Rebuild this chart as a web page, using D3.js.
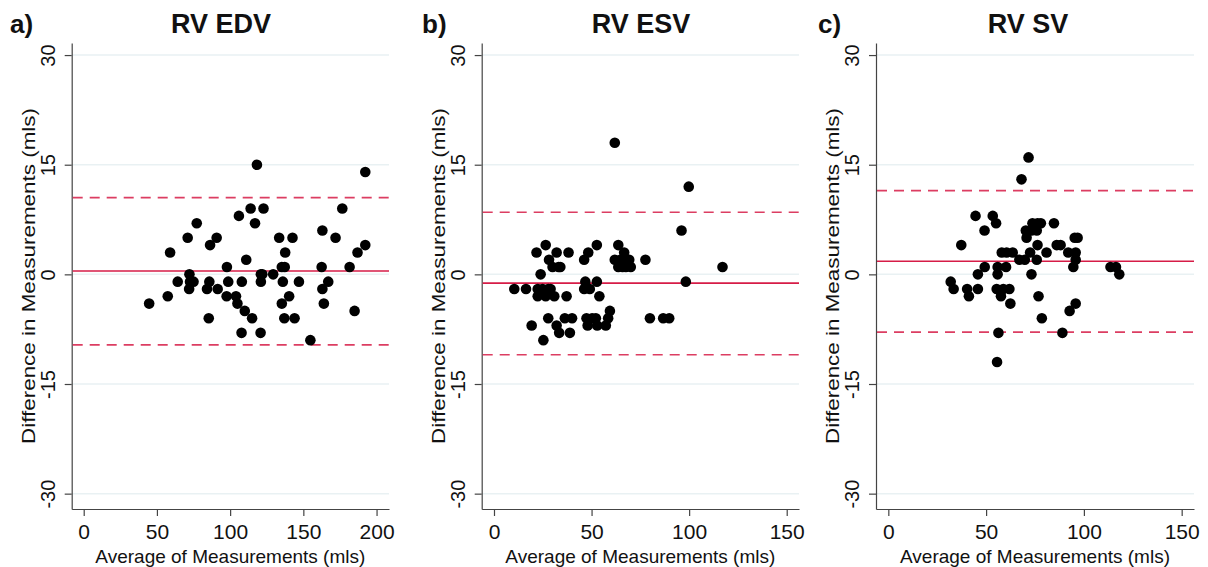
<!DOCTYPE html>
<html>
<head>
<meta charset="utf-8">
<script src="https://cdn.jsdelivr.net/npm/d3@7"></script>
<style>
  body { margin: 0; background: #fff; }
  text { font-family: "Liberation Sans", Arial, Helvetica, sans-serif; fill: #111; }
</style>
</head>
<body>
<div id="chart"></div>
<script>
// data (x = average, y = difference, mls)
var edvX = [44.7,57.4,59,64.2,71,72.2,72.6,72,75,77.2,84.2,85.8,86.3,85.4,90.8,91.5,97.8,98.7,97.6,104,105,106,108,107.8,110,111,114,115,117,118.3,121,121,120.8,122.8,122,129.4,133.5,135.3,135.3,136,137.3,137.6,137,140.3,142.6,144,147,154.8,163,162.5,163,164,167,172,176.6,181.6,185,187,192.3,192.3];
var edvY = [-4,-3,3,-1,5,0,-1,-2,-1,7,-2,-1,4,-6,5,-2,1,-1,-3,-3,-4,8,-1,-8,-5,2,9,-6,7,15,0,-1,-8,9,0,0,5,1,-4,-1,1,3,-6,-3,5,-6,-1,-9,6,1,-2,-4,-1,5,9,1,-5,3,4,14];

var esvX = [10.4,16.4,19.3,21.8,23.9,22.4,22.4,24.9,25.3,26.5,26.5,27.8,27.8,28.2,29,30,30.9,32.1,32.1,33.1,33.4,34,37.2,36.3,38.2,38.9,40,46.2,46.8,46.2,48.3,47.4,48,49.1,50.3,52.7,52.7,52.2,52.9,54,57.3,58.5,59.4,61.9,61.9,63.7,63.7,64.8,65.9,66.7,67.6,69.3,70.1,77.6,79.9,86.7,89.8,96.1,98.3,99.8,117.1];
var esvY = [-2,-2,-7,3,0,-2,-3,-2,-9,4,-3,-2,-6,2,-2,1,-3,3,-7,1,-8,1,-3,-6,3,-8,-6,2,-1,-2,3,-6,-7,-2,-6,4,-1,-6,-7,-3,-7,-6,-5,18,2,4,1,2,1,3,1,2,1,2,-6,-6,-6,6,-1,12,1];

var svX = [31.9,33.4,37.3,40.3,41.2,44.6,45.8,45.8,49.2,49.3,53.4,55.1,55.9,55.9,55.4,56.3,55.6,57.6,58,58.8,60.2,60.5,61.9,62.4,63.6,67,68.1,69.8,70.3,70.7,71.7,72.5,73.2,73.2,73.7,75.9,75.9,76.3,76.3,76.8,78,78.5,80.9,84.7,86.1,88.1,89,92,92.7,94.6,95.3,96.8,95.8,95.8,95.8,113.6,116.4,118.1];
var svY = [-1,-2,4,-2,-3,8,-2,0,6,1,8,7,1,0,-2,-8,-12,-3,3,-2,1,3,-2,-4,3,2,13,2,6,5,16,3,0,6,7,6,2,4,7,-3,7,-6,3,7,4,4,-8,3,-5,1,5,5,3,2,-4,1,1,0];

// mean difference and limits of agreement
var edvLines = [0.45, 10.5, -9.65];
var esvLines = [-1.2, 8.5, -11.0];
var svLines  = [1.8, 11.45, -7.9];

var yTicks = [-30, -15, 0, 15, 30];
var edvTicks = [0, 50, 100, 150, 200];
var esvTicks = [0, 50, 100, 150];
var svTicks  = [0, 50, 100, 150];

var panels = [
  {tag: "a)", title: "RV EDV", xs: edvX, ys: edvY, lines: edvLines, ticks: edvTicks,
   dom: [-8.2, 208.5], rng: [71.7, 389], tagX: 10, titleX: 221},
  {tag: "b)", title: "RV ESV", xs: esvX, ys: esvY, lines: esvLines, ticks: esvTicks,
   dom: [-6.3, 156.3], rng: [481.7, 799], tagX: 422, titleX: 641},
  {tag: "c)", title: "RV SV", xs: svX, ys: svY, lines: svLines, ticks: svTicks,
   dom: [-6.3, 156.3], rng: [876, 1194], tagX: 818, titleX: 1028}
];

var red = "#d61c47";

var svg = d3.select("#chart")
  .append("svg")
    .attr("width", 1208)
    .attr("height", 567);

var y = d3.scaleLinear()
  .domain([-32.1, 31.65])
  .range([509, 43]);

var plain = function(d) { return String(d); };

panels.forEach(function(p) {
  var x = d3.scaleLinear().domain(p.dom).range(p.rng);
  var g = svg.append("g");

  // grid
  g.append("g").selectAll("line")
    .data(yTicks)
    .enter().append("line")
      .attr("x1", p.rng[0]).attr("x2", p.rng[1])
      .attr("y1", function(d) { return y(d); })
      .attr("y2", function(d) { return y(d); })
      .attr("stroke", "#e9f1f3")
      .attr("stroke-width", 1.5);

  // axes
  var xa = g.append("g")
    .attr("transform", "translate(0," + y.range()[0] + ")")
    .call(d3.axisBottom(x).tickValues(p.ticks).tickFormat(plain).tickSize(7).tickSizeOuter(0));
  xa.selectAll("text")
    .attr("font-size", 21)
    .attr("y", 30).attr("dy", 0);

  var ya = g.append("g")
    .attr("transform", "translate(" + p.rng[0] + ",0)")
    .call(d3.axisLeft(y).tickValues(yTicks).tickFormat(plain).tickSize(7).tickSizeOuter(0));
  ya.selectAll("text")
    .attr("font-size", 20)
    .attr("x", 0).attr("dy", 0)
    .attr("text-anchor", "middle")
    .attr("transform", "translate(-17,0) rotate(-90)");

  [xa, ya].forEach(function(a) {
    a.select(".domain").attr("stroke", "#444").attr("stroke-width", 1.2);
    a.selectAll(".tick line").attr("stroke", "#444").attr("stroke-width", 1.2);
    a.selectAll("text").attr("fill", "#111").style("font-family", "Liberation Sans, Arial, sans-serif");
  });

  // mean and limits of agreement
  g.append("g").selectAll("line")
    .data(p.lines)
    .enter().append("line")
      .attr("x1", p.rng[0] + 1).attr("x2", p.rng[1])
      .attr("y1", function(d) { return y(d); })
      .attr("y2", function(d) { return y(d); })
      .attr("stroke", red)
      .attr("stroke-width", 1.6)
      .attr("stroke-dasharray", function(d, i) { return i === 0 ? null : "10,7"; })
      .attr("opacity", function(d, i) { return i === 0 ? 1 : 0.85; });

  // dots
  g.append("g").selectAll("circle")
    .data(p.xs)
    .enter().append("circle")
      .attr("cx", function(d) { return x(d); })
      .attr("cy", function(d, i) { return y(p.ys[i]); })
      .attr("r", 5.3)
      .attr("fill", "#000");

  // titles
  g.append("text")
    .attr("x", (p.rng[0] + p.rng[1]) / 2)
    .attr("y", 563)
    .attr("text-anchor", "middle")
    .attr("font-size", 19)
    .text("Average of Measurements (mls)");

  g.append("text")
    .attr("transform", "translate(" + (p.rng[0] - 37) + "," + ((y.range()[0] + y.range()[1]) / 2) + ") rotate(-90)")
    .attr("text-anchor", "middle")
    .attr("font-size", 19)
    .attr("textLength", 336)
    .attr("lengthAdjust", "spacingAndGlyphs")
    .text("Difference in Measurements (mls)");

  g.append("text")
    .attr("x", p.titleX).attr("y", 33)
    .attr("text-anchor", "middle")
    .attr("font-size", 27).attr("font-weight", "bold")
    .text(p.title);

  g.append("text")
    .attr("x", p.tagX).attr("y", 33)
    .attr("font-size", 26).attr("font-weight", "bold")
    .text(p.tag);
});
</script>
</body>
</html>
